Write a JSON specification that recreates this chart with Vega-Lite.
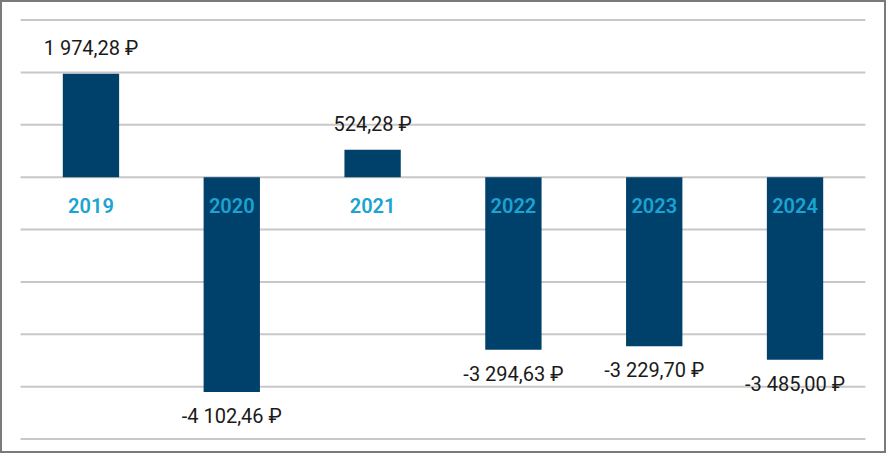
{
  "$schema": "https://vega.github.io/schema/vega-lite/v6.json",
  "width": 886,
  "height": 453,
  "autosize": {"type": "fit", "contains": "padding"},
  "padding": 0,
  "background": "white",
  "config": {"view": {"stroke": "#7a7a7a", "strokeWidth": 4}},
  "datasets": {
    "bars": [
      {"year": "2019", "value": 1974.28, "label": "1 974,28 ₽"},
      {"year": "2020", "value": -4102.46, "label": "-4 102,46 ₽"},
      {"year": "2021", "value": 524.28, "label": "524,28 ₽"},
      {"year": "2022", "value": -3294.63, "label": "-3 294,63 ₽"},
      {"year": "2023", "value": -3229.70, "label": "-3 229,70 ₽"},
      {"year": "2024", "value": -3485.00, "label": "-3 485,00 ₽"}
    ],
    "grid": [
      {"v": -5000, "start": "2019", "end": "2024"},
      {"v": -4000, "start": "2019", "end": "2024"},
      {"v": -3000, "start": "2019", "end": "2024"},
      {"v": -2000, "start": "2019", "end": "2024"},
      {"v": -1000, "start": "2019", "end": "2024"},
      {"v": 0, "start": "2019", "end": "2024"},
      {"v": 1000, "start": "2019", "end": "2024"},
      {"v": 2000, "start": "2019", "end": "2024"},
      {"v": 3000, "start": "2019", "end": "2024"}
    ]
  },
  "encoding": {
    "x": {
      "field": "year",
      "type": "nominal",
      "scale": {"domain": ["2019", "2020", "2021", "2022", "2023", "2024"], "paddingInner": 0.6, "paddingOuter": 0.446},
      "axis": null
    },
    "y": {
      "field": "value",
      "type": "quantitative",
      "scale": {"domain": [-5267, 3382], "nice": false, "zero": false},
      "axis": null
    }
  },
  "layer": [
    {
      "data": {"name": "grid"},
      "mark": {"type": "rule", "color": "#c8c8c8", "strokeWidth": 2},
      "encoding": {
        "y": {"field": "v", "type": "quantitative"},
        "x": {"field": "start", "type": "nominal", "bandPosition": -0.75},
        "x2": {"field": "end", "bandPosition": 1.75}
      }
    },
    {
      "data": {"name": "bars"},
      "mark": {"type": "bar", "color": "#00416b"},
      "encoding": {
        "y": {"field": "value", "type": "quantitative"},
        "y2": {"datum": 0}
      }
    },
    {
      "data": {"name": "bars"},
      "mark": {"type": "text", "color": "#1ba3d2", "fontSize": 20, "fontWeight": 600, "font": "Roboto", "baseline": "middle", "dy": 30},
      "encoding": {
        "y": {"datum": 0},
        "text": {"field": "year"}
      }
    },
    {
      "data": {"name": "bars"},
      "transform": [{"filter": "datum.value >= 0"}],
      "mark": {"type": "text", "color": "#1a1a1a", "fontSize": 20, "font": "Roboto", "baseline": "middle", "dy": -25},
      "encoding": {
        "text": {"field": "label"}
      }
    },
    {
      "data": {"name": "bars"},
      "transform": [{"filter": "datum.value < 0"}],
      "mark": {"type": "text", "color": "#1a1a1a", "fontSize": 20, "font": "Roboto", "baseline": "middle", "dy": 25},
      "encoding": {
        "text": {"field": "label"}
      }
    }
  ]
}
